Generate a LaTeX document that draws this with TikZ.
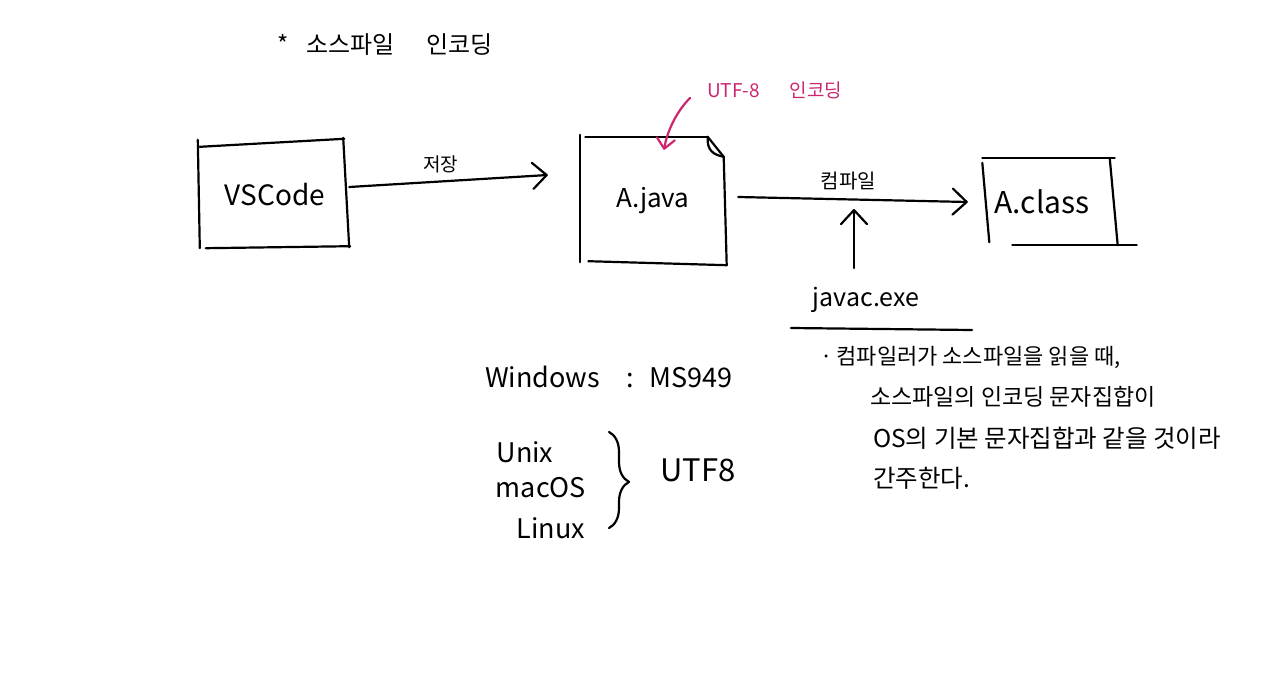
\documentclass[tikz,border=0pt]{standalone}
\usepackage{fontspec}
\setmainfont{Noto Sans CJK KR}
\usetikzlibrary{arrows.meta,decorations.pathreplacing}
\definecolor{mag}{RGB}{204,38,112}
\newcommand\myfs[1]{\fontsize{#1}{#1}\selectfont}
\begin{document}
\begin{tikzpicture}[x=1pt,y=-1pt,
  pen/.style={line width=2.2pt,line cap=round,line join=round},
  arr/.style={pen,-{Straight Barb[length=14pt,width=26pt,round]}},
  magarr/.style={pen,draw=mag,-{Straight Barb[length=10pt,width=18pt,round]}},
  txt/.style={inner sep=0pt},
  boxn/.style={inner sep=0pt}]
\fill[white] (0,0) rectangle (1274,698);
\useasboundingbox (0,0) rectangle (1274,698);

% title
\node[txt,anchor=west,font=\myfs{24}] (title) at (277,45) {*\hspace{18pt}소스파일\hspace{32pt}인코딩};

% boxes
\node[boxn,minimum width=146pt,minimum height=106pt,font=\myfs{28}] (vs) at (275,195) {VSCode};
\node[boxn,minimum width=145pt,minimum height=128pt,font=\myfs{26}] (jv) at (653,201) {A.java};
\node[boxn,minimum width=135pt,minimum height=87pt,font=\myfs{30}] (cls) at (1050,201.5) {A.class\rule{16pt}{0pt}};

% VSCode outline
\draw[pen] ([xshift=-4pt,yshift=2pt]vs.north west) -- ([xshift=-2pt]vs.south west);
\draw[pen] ([xshift=-2pt,yshift=-5pt]vs.north west) -- ([xshift=-4pt,yshift=3pt]vs.north east);
\draw[pen] ([xshift=-5pt,yshift=4pt]vs.north east) -- ([xshift=1pt,yshift=1pt]vs.south east);
\draw[pen] ([xshift=4pt]vs.south west) -- ([xshift=2pt,yshift=2pt]vs.south east);

% A.java outline (file with folded corner)
\draw[pen] ([yshift=2pt]jv.north west) -- ([yshift=3pt]jv.south west);
\draw[pen] ([xshift=5pt]jv.north west) -- ([xshift=-18pt]jv.north east);
\draw[pen] ([xshift=-18pt]jv.north east) -- ([xshift=-2pt,yshift=-20pt]jv.north east);
\draw[pen] ([xshift=-18pt]jv.north east) .. controls ([xshift=-19pt,yshift=-14pt]jv.north east) and ([xshift=-12pt,yshift=-18pt]jv.north east) .. ([xshift=-2pt,yshift=-20pt]jv.north east);
\draw[pen] ([xshift=-2pt,yshift=-20pt]jv.north east) -- ([xshift=1pt]jv.south east);
\draw[pen] ([xshift=8pt,yshift=4pt]jv.south west) -- ([xshift=1pt]jv.south east);

% A.class outline
\draw[pen] (cls.north west) -- ([xshift=-3pt]cls.north east);
\draw[pen] ([yshift=-5pt]cls.north west) -- ([xshift=7pt,yshift=3pt]cls.south west);
\draw[pen] ([xshift=-8pt]cls.north east) -- (cls.south east);
\draw[pen] ([xshift=30pt]cls.south west) -- ([xshift=19pt]cls.south east);

% UTF-8 note
\node[txt,anchor=west,font=\myfs{19},text=mag] (utf) at (707,90) {UTF-8\hspace{30pt}인코딩};
\draw[magarr] ([xshift=-17pt,yshift=-8pt]utf.west) .. controls (676,112) and (667,132) .. ([xshift=11pt,yshift=-13pt]jv.north);

% save arrow
\draw[arr] ([xshift=1pt,yshift=8pt]vs.east) -- node[txt,pos=0.46,above=7pt,font=\myfs{19}] (save) {저장} ([xshift=-32.5pt,yshift=26pt]jv.west);

% compile arrow
\draw[arr] ([xshift=12.5pt,yshift=4pt]jv.east) -- node[txt,pos=0.48,above=8pt,font=\myfs{20}] (comp) {컴파일} ([xshift=-14.5pt,yshift=-0.5pt]cls.west);

% javac
\coordinate (cp) at (854,209);
\coordinate (jtop) at (854,268);
\draw[arr] (jtop) -- (cp);
\node[txt,font=\myfs{25}] (javac) at (866,300) {javac.exe};
\draw[pen] (791,328) -- (972,330);

% explanation
\node[txt,anchor=west,font=\myfs{22}] (l1) at (820,357) {·\hspace{4pt}컴파일러가 소스파일을 읽을 때,};
\node[txt,anchor=west,font=\myfs{23}] (l2) at (870,397) {소스파일의 인코딩 문자집합이};
\node[txt,anchor=west,font=\myfs{24.5}] (l3) at (873,438) {OS의 기본 문자집합과 같을 것이라};
\node[txt,anchor=west,font=\myfs{24.5}] (l4) at (873,478) {간주한다.};

% OS encodings
\node[txt,anchor=west,font=\myfs{27}] (win) at (485,377) {Windows\hspace{26pt}:\hspace{16pt}MS949};
\node[txt,font=\myfs{27}] (unix) at (525,452) {Unix};
\node[txt,font=\myfs{27}] (mac) at (541,488) {macOS};
\node[txt,font=\myfs{27}] (linux) at (551,528) {Linux};
\draw[pen,decorate,decoration={brace,amplitude=20pt,aspect=0.52}] (609,432) -- (609,528);
\node[txt,font=\myfs{31}] (utf8) at (698,470) {UTF8};
\end{tikzpicture}
\end{document}
